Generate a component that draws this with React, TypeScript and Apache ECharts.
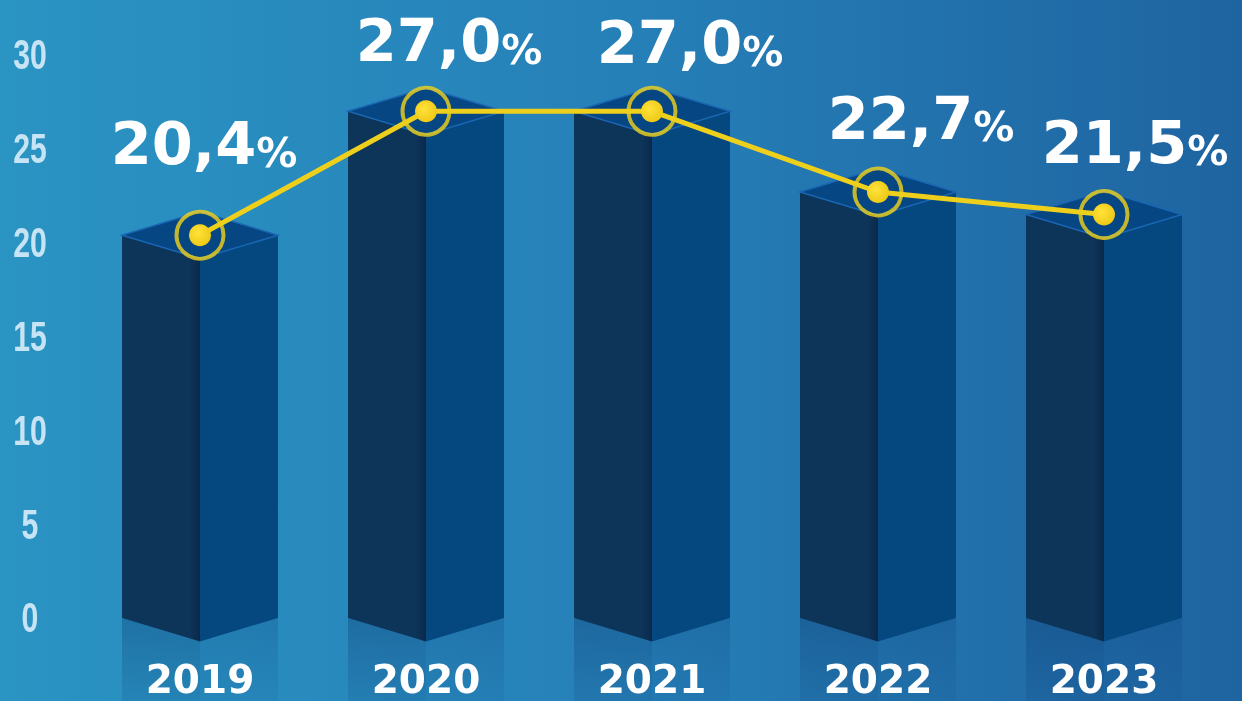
import React, { useEffect, useRef } from "react";
import * as echarts from "echarts";

// ---- data ----
const years: string[] = ["2019", "2020", "2021", "2022", "2023"];
const shares: number[] = [20.4, 27.0, 27.0, 22.7, 21.5];
const yTicks: number[] = [0, 5, 10, 15, 20, 25, 30];
const yTickStep = 5;
const yMax = 30;

// ---- layout constants (label nudges, not data) ----
const labelDx: number[] = [4, 23, 38, 43, 31];
const labelDy: number[] = [-51, -30, -28, -33, -32];

const fmt = (v: number) => v.toFixed(1).replace(".", ",");

export default function App() {
  const ref = useRef<HTMLDivElement>(null);

  useEffect(() => {
    if (!ref.current) return;
    const chart = echarts.init(ref.current, undefined, { renderer: "svg" });
    const G = echarts.graphic;

    const bg = new G.LinearGradient(0, 0, 1, 0, [
      { offset: 0, color: "#2a94c3" },
      { offset: 0.5, color: "#2680b8" },
      { offset: 1, color: "#1e64a1" },
    ]);

    const option: any = {
      animation: false,
      graphic: [
        {
          type: "rect",
          z: -10,
          silent: true,
          shape: { x: 0, y: 0, width: 1242, height: 701 },
          style: { fill: bg },
        },
      ],
      grid: { left: 87, right: 25, top: 55, bottom: 83 },
      xAxis: {
        type: "category",
        data: years,
        boundaryGap: true,
        z: 10,
        axisLine: { show: false },
        axisTick: { show: false },
        splitLine: { show: false },
        axisLabel: {
          color: "#ffffff",
          fontFamily: "DejaVu Sans",
          fontWeight: "bold",
          fontSize: 39,
          lineHeight: 40,
          margin: 61,
          verticalAlign: "middle",
        },
      },
      yAxis: {
        type: "value",
        min: 0,
        max: yMax,
        interval: yTickStep,
        axisLine: { show: false },
        axisTick: { show: false },
        splitLine: { show: false },
        axisLabel: { show: false },
      },
      series: [
        {
          // condensed y tick labels, placed through the value axis
          type: "custom",
          z: 5,
          clip: false,
          silent: true,
          data: yTicks.map((t) => [0, t]),
          encode: { x: 0, y: 1 },
          renderItem: (params: any, api: any) => {
            const t = api.value(1);
            const p = api.coord([0, t]);
            return {
              type: "text",
              x: params.coordSys.x - 57,
              y: p[1],
              scaleX: 0.72,
              style: {
                text: String(t),
                fill: "#c6e4f3",
                fontFamily: "Liberation Sans",
                fontWeight: "bold",
                fontSize: 42,
                align: "center",
                verticalAlign: "middle",
              },
            };
          },
        },
        {
          type: "custom",
          z: 1,
          clip: false,
          data: shares.map((v, i) => [i, v]),
          encode: { x: 0, y: 1 },
          renderItem: (_params: any, api: any) => {
            const i = api.value(0);
            const v = api.value(1);
            const top = api.coord([i, v]);
            const base = api.coord([i, 0]);
            const band = api.size([1, 0])[0];
            const w = band * 0.345;
            const d = w * 0.3;
            const cx = top[0];
            const ty = top[1];
            const by = base[1];
            const reflH = 90;
            return {
              type: "group",
              children: [
                {
                  type: "polygon",
                  shape: {
                    points: [
                      [cx - w, by],
                      [cx, by + d],
                      [cx, by + d + reflH],
                      [cx - w, by + reflH],
                    ],
                  },
                  style: {
                    fill: new G.LinearGradient(0, 0, 0, 1, [
                      { offset: 0, color: "rgba(10,50,105,0.32)" },
                      { offset: 1, color: "rgba(10,50,105,0.05)" },
                    ]),
                  },
                },
                {
                  type: "polygon",
                  shape: {
                    points: [
                      [cx, by + d],
                      [cx + w, by],
                      [cx + w, by + reflH],
                      [cx, by + d + reflH],
                    ],
                  },
                  style: {
                    fill: new G.LinearGradient(0, 0, 0, 1, [
                      { offset: 0, color: "rgba(10,60,120,0.22)" },
                      { offset: 1, color: "rgba(10,60,120,0.03)" },
                    ]),
                  },
                },
                {
                  type: "polygon",
                  shape: {
                    points: [
                      [cx - w, ty],
                      [cx, ty + d],
                      [cx, by + d],
                      [cx - w, by],
                    ],
                  },
                  style: { fill: "#0d3459" },
                },
                {
                  type: "polygon",
                  shape: {
                    points: [
                      [cx - 10, ty + d - 3],
                      [cx, ty + d],
                      [cx, by + d],
                      [cx - 10, by + d - 3],
                    ],
                  },
                  style: {
                    fill: new G.LinearGradient(0, 0, 1, 0, [
                      { offset: 0, color: "rgba(5,20,45,0)" },
                      { offset: 1, color: "rgba(5,20,45,0.35)" },
                    ]),
                  },
                },
                {
                  type: "polygon",
                  shape: {
                    points: [
                      [cx, ty + d],
                      [cx + w, ty],
                      [cx + w, by],
                      [cx, by + d],
                    ],
                  },
                  style: { fill: "#04487f" },
                },
                {
                  type: "polygon",
                  shape: {
                    points: [
                      [cx - w, ty],
                      [cx, ty - d],
                      [cx + w, ty],
                      [cx, ty + d],
                    ],
                  },
                  style: {
                    fill: "#064683",
                    stroke: "#1a66b2",
                    lineWidth: 1.5,
                  },
                },
              ],
            };
          },
        },
        {
          type: "scatter",
          z: 3,
          data: shares,
          symbol: "circle",
          symbolSize: 47,
          itemStyle: {
            color: "rgba(0,0,0,0)",
            borderColor: "#f3d31a",
            borderWidth: 4,
          },
          silent: true,
        },
        {
          type: "line",
          z: 4,
          data: shares.map((v, i) => ({
            value: v,
            label: { offset: [labelDx[i], labelDy[i]] },
          })),
          symbol: "circle",
          symbolSize: 22,
          lineStyle: { color: "#eed01c", width: 5 },
          itemStyle: {
            color: new G.RadialGradient(0.4, 0.4, 0.7, [
              { offset: 0, color: "#ffe23a" },
              { offset: 1, color: "#ecc612" },
            ]),
          },
          label: {
            show: true,
            position: "top",
            distance: 0,
            formatter: (p: any) => `{a|${fmt(p.value)}}{b|%}`,
            rich: {
              a: {
                fontFamily: "DejaVu Sans",
                fontWeight: "bold",
                fontSize: 59,
                lineHeight: 62,
                color: "#ffffff",
                verticalAlign: "bottom",
              },
              b: {
                fontFamily: "DejaVu Sans",
                fontWeight: "bold",
                fontSize: 41,
                lineHeight: 51,
                color: "#ffffff",
                verticalAlign: "bottom",
              },
            },
          },
        },
      ],
    };

    chart.setOption(option);
    return () => chart.dispose();
  }, []);

  return (
    <div
      ref={ref}
      style={{ position: "fixed", left: 0, top: 0, width: 1242, height: 701 }}
    />
  );
}
